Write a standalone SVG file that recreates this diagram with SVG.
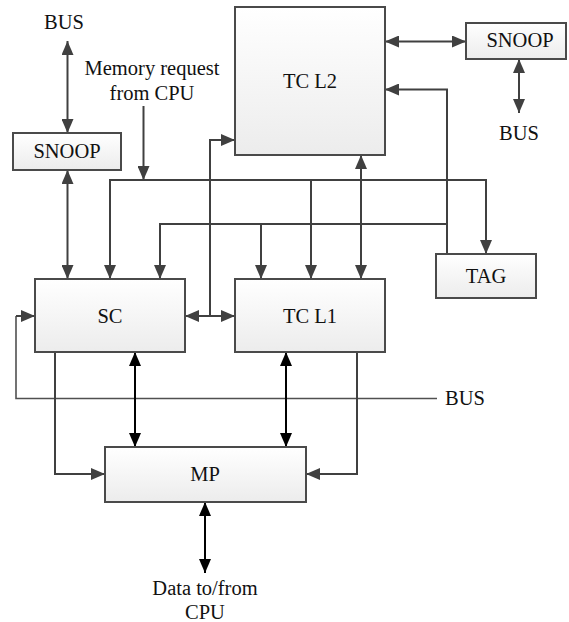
<svg xmlns="http://www.w3.org/2000/svg" width="569" height="622" viewBox="0 0 569 622">
<style>
text{font-family:"Liberation Serif","Times New Roman",serif;font-size:20.5px;fill:#111;text-anchor:middle}
.box{fill:url(#g);stroke:#4a4a4a;stroke-width:2}
.c{fill:none;stroke:#404040;stroke-width:2}
.k{fill:none;stroke:#000;stroke-width:2}
.bus{fill:none;stroke:#505050;stroke-width:1.6}
</style>
<defs>
<linearGradient id="g" x1="0" y1="0" x2="0" y2="1">
<stop offset="0" stop-color="#ffffff"/>
<stop offset="1" stop-color="#ececec"/>
</linearGradient>
<marker id="ag" viewBox="0 0 14 12" refX="14" refY="6" markerWidth="14" markerHeight="12" markerUnits="userSpaceOnUse" orient="auto-start-reverse">
<path d="M0,0 L14,6 L0,12 Z" fill="#404040"/>
</marker>
<marker id="ak" viewBox="0 0 14 12" refX="14" refY="6" markerWidth="14" markerHeight="12" markerUnits="userSpaceOnUse" orient="auto-start-reverse">
<path d="M0,0 L14,6 L0,12 Z" fill="#000"/>
</marker>
</defs>
<rect width="569" height="622" fill="#fff"/>

<g id="connectors">
<path class="c" d="M67.5,41 V133" marker-start="url(#ag)" marker-end="url(#ag)"/>
<path class="c" d="M67.5,170 V279" marker-start="url(#ag)" marker-end="url(#ag)"/>
<path class="c" d="M143.5,106 V180" marker-end="url(#ag)"/>
<path class="c" d="M110,279 V180 H486 V254" marker-start="url(#ag)" marker-end="url(#ag)"/>
<path class="c" d="M311,180 V279" marker-end="url(#ag)"/>
<path class="c" d="M447,254 V89.5 H385" marker-end="url(#ag)"/>
<path class="c" d="M447,224 H160 V279" marker-end="url(#ag)"/>
<path class="c" d="M261,224 V279" marker-end="url(#ag)"/>
<path class="c" d="M361,155 V279" marker-start="url(#ag)" marker-end="url(#ag)"/>
<path class="c" d="M385,41.5 H466" marker-start="url(#ag)" marker-end="url(#ag)"/>
<path class="c" d="M519,59 V113" marker-start="url(#ag)" marker-end="url(#ag)"/>
<path class="c" d="M210,316 V140 H235" marker-end="url(#ag)"/>
<path class="c" d="M185,316 H235" marker-start="url(#ag)" marker-end="url(#ag)"/>
<path class="bus" d="M437,398.5 H16 V316"/>
<path class="c" d="M16,316 H35" marker-end="url(#ag)"/>
<path class="c" d="M55,352 V474 H105" marker-end="url(#ag)"/>
<path class="c" d="M357,352 V474 H306" marker-end="url(#ag)"/>
<path class="k" d="M135,352 V447" marker-start="url(#ak)" marker-end="url(#ak)"/>
<path class="k" d="M286,352 V447" marker-start="url(#ak)" marker-end="url(#ak)"/>
<path class="k" d="M205,502 V573" marker-start="url(#ak)" marker-end="url(#ak)"/>
</g>

<g id="tcl2"><rect class="box" x="235" y="7" width="150" height="148"/><text x="310" y="88">TC L2</text></g>
<g id="snoop-left"><rect class="box" x="13" y="133" width="108" height="37"/><text x="67" y="158">SNOOP</text></g>
<g id="snoop-right"><rect class="box" x="466" y="23" width="100" height="36"/><text x="520" y="47">SNOOP</text></g>
<g id="sc"><rect class="box" x="35" y="279" width="150" height="73"/><text x="110" y="323">SC</text></g>
<g id="tcl1"><rect class="box" x="235" y="279" width="150" height="73"/><text x="310" y="323">TC L1</text></g>
<g id="tag"><rect class="box" x="436" y="254" width="100" height="44"/><text x="486" y="283">TAG</text></g>
<g id="mp"><rect class="box" x="105" y="447" width="201" height="55"/><text x="205" y="481">MP</text></g>

<g id="labels">
<text x="64" y="29">BUS</text>
<text x="152" y="75">Memory request</text>
<text x="152" y="100">from CPU</text>
<text x="519" y="140">BUS</text>
<text x="465" y="405">BUS</text>
<text x="205" y="595">Data to/from</text>
<text x="205" y="619">CPU</text>
</g>
</svg>
